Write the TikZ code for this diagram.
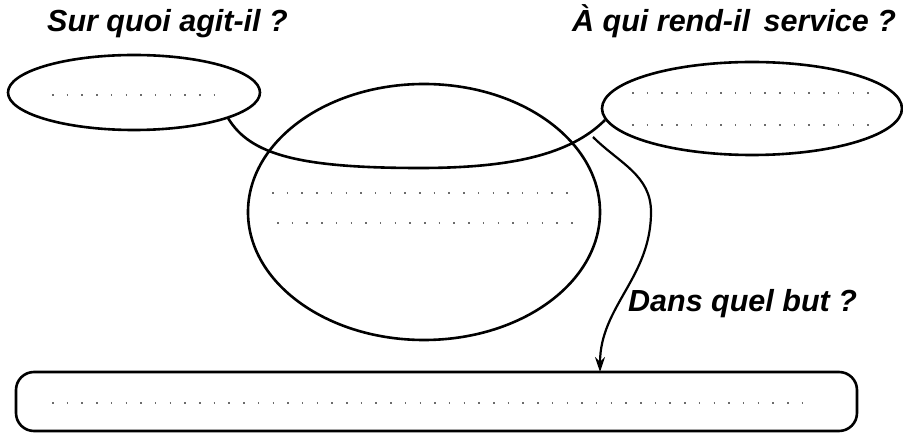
\documentclass[tikz,border=0pt]{standalone}
\usepackage{fontspec}
\setmainfont{Liberation Sans}
\usetikzlibrary{arrows.meta,shapes.geometric}
\begin{document}
\begin{tikzpicture}[x=1pt,y=-1pt,
  outline/.style={draw=black,line width=2.6pt},
  oval/.style={outline,ellipse,inner sep=0pt},
  dotline/.style={draw=gray!85!black,line width=1.5pt,dash pattern=on 1.5pt off 13.2pt},
  question/.style={font=\fontsize{30.5}{36}\selectfont\bfseries\itshape,inner sep=0pt,anchor=base west},
  connector/.style={draw=black,line width=2.6pt},
  arrowline/.style={draw=black,line width=2.2pt,-{Stealth[length=15pt,width=10pt,inset=5pt]}}]
\useasboundingbox (0,0) rectangle (903,435);
% shapes
\node[oval,minimum width=252pt,minimum height=75pt] (obj) at (134,92.5) {};
\node[oval,minimum width=300pt,minimum height=93pt] (user) at (752,108.5) {};
\node[oval,minimum width=352pt,minimum height=256pt] (fn) at (424,212) {};
\node[outline,rectangle,rounded corners=18pt,minimum width=841pt,minimum height=59pt,inner sep=0pt] (goal) at (436.5,401.5) {};
% labels
\node[question] (q1) at (47,32) {Sur quoi agit-il ?};
\node[question] (q2) at (572,32) {À qui rend-il\, service ?};
\node[question] (q3) at (628,312) {Dans quel but ?};
% dotted writing lines
\draw[dotline] (52,95) -- (220,95);
\draw[dotline] (632,93) -- (872,93);
\draw[dotline] (632,125) -- (872,125);
\draw[dotline] (272,193) -- (570,193);
\draw[dotline] (277,223) -- (578,223);
\draw[dotline] (52,403) -- (812,403);
% horn connector
\coordinate (hornL) at (228,118);
\coordinate (hornR) at (605,120);
\draw[connector] (hornL) .. controls (250,155) and (300,168) .. (420,168)
  .. controls (510,168) and (570,155) .. (hornR);
% arrow
\coordinate (arrS) at (593,137);
\coordinate (arrM) at (651,212);
\coordinate (arrE) at (600,372);
\draw[arrowline] (arrS) to[out=-45,in=90] (arrM) to[out=-90,in=90] (arrE);
\end{tikzpicture}
\end{document}
